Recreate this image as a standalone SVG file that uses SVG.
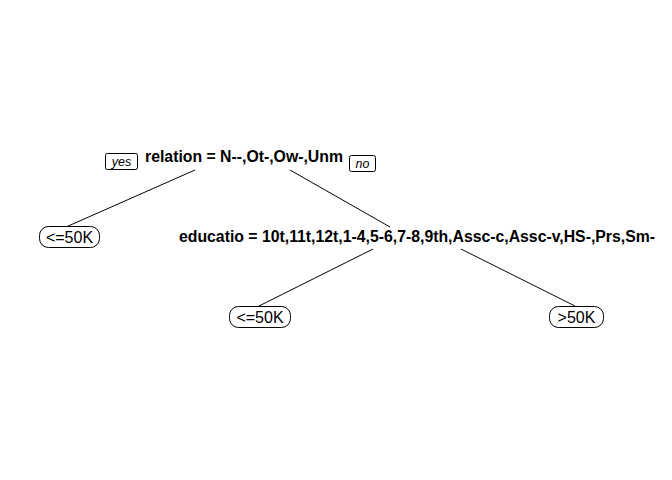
<svg xmlns="http://www.w3.org/2000/svg" width="672" height="480" viewBox="0 0 672 480">
<style>
.split{font-family:"Liberation Sans",Arial,sans-serif;font-size:15.8px;font-weight:bold;fill:#000;text-anchor:middle}
.leaf{font-family:"Liberation Sans",Arial,sans-serif;font-size:16px;fill:#000;text-anchor:middle}
.yn{font-family:"Liberation Sans",Arial,sans-serif;font-size:12.5px;font-style:italic;fill:#000;text-anchor:middle}
.box{fill:#fff;stroke:#000;stroke-width:1}
.edge{stroke:#000;stroke-width:1;fill:none}
</style>
<rect width="672" height="480" fill="#fff"/>
<g id="connectors">
<line class="edge" x1="195" y1="170" x2="66" y2="227"/>
<line class="edge" x1="290" y1="170" x2="390" y2="227"/>
<line class="edge" x1="373" y1="249" x2="259" y2="306"/>
<line class="edge" x1="461" y1="249" x2="575" y2="306"/>
</g>
<g id="root">
<text class="split" x="244" y="162">relation = N--,Ot-,Ow-,Unm</text>
<rect class="box" x="105.5" y="153.5" width="32" height="16" rx="2"/>
<text class="yn" x="121.5" y="166">yes</text>
<rect class="box" x="349.5" y="155.5" width="26" height="16" rx="2"/>
<text class="yn" x="362.5" y="168">no</text>
</g>
<g id="leaf1">
<rect class="box" x="39.5" y="226.5" width="60" height="21" rx="9"/>
<text class="leaf" x="69.5" y="243">&lt;=50K</text>
</g>
<g id="split2">
<text class="split" x="417" y="242">educatio = 10t,11t,12t,1-4,5-6,7-8,9th,Assc-c,Assc-v,HS-,Prs,Sm-</text>
</g>
<g id="leaf2">
<rect class="box" x="229.5" y="306.5" width="61" height="21" rx="9"/>
<text class="leaf" x="260" y="323">&lt;=50K</text>
</g>
<g id="leaf3">
<rect class="box" x="549.5" y="306.5" width="54" height="21" rx="9"/>
<text class="leaf" x="576.5" y="323">&gt;50K</text>
</g>
</svg>
